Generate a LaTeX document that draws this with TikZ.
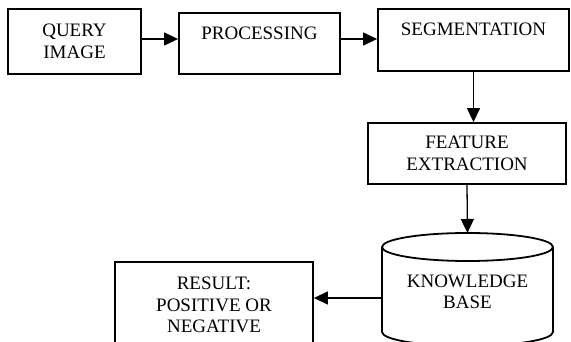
\documentclass[tikz,border=0pt]{standalone}
\usepackage{fontspec}
\setmainfont{Liberation Serif}
\usepackage{tikz}
\usetikzlibrary{arrows.meta,calc}
\tikzstyle{block}=[rectangle,draw,line width=1.8pt,inner sep=0pt,align=center,font=\fontsize{19}{21.5}\selectfont]
\tikzstyle{label}=[inner sep=0pt,align=center,font=\fontsize{19}{21.5}\selectfont]
\tikzstyle{edge} = [draw,line width=1.3pt,-{Triangle[length=14pt,width=13pt]}]

\begin{document}
\begin{tikzpicture}[x=1pt,y=1pt]
    \useasboundingbox (0,0) rectangle (571,-342);

    % top row and feature block
    \node[block,minimum width=133pt,minimum height=65pt] (query) at (74.5,-41.5) {QUERY\\IMAGE};
    \node[block,minimum width=161pt,minimum height=61pt] (proc) at (259.5,-43.5) {PROCESSING\\~};
    \node[block,minimum width=191pt,minimum height=62pt] (seg) at (473.5,-40) {SEGMENTATION\\~};
    \node[block,minimum width=198pt,minimum height=61pt] (feat) at (467,-153.5) {FEATURE\\EXTRACTION};
    \node[block,minimum width=198pt,minimum height=86pt] (result) at (214,-305) {RESULT:\\POSITIVE OR\\NEGATIVE};

    % knowledge base drum
    \draw[line width=1.8pt] (467.5,-247) ellipse [x radius=85.5pt,y radius=14pt];
    \draw[line width=1.8pt] (382,-247) -- (382,-332)
        arc[start angle=180,end angle=360,x radius=85.5pt,y radius=14pt] -- (553,-247);
    \node[label] (kb) at (467.5,-292) {KNOWLEDGE\\BASE};
    \coordinate (kbtop) at (467.5,-233);
    \coordinate (kbw) at (382,-298);
    \coordinate (row) at (0,-39);

    % arrows
    \foreach \source/ \dest in {query/proc, proc/seg}
        \path[edge] (\source.east |- row) -- (\dest.west |- row);
    \path[edge] (seg.south) -- (seg.south |- feat.north);
    \path[edge] (feat.south) -- (kbtop);
    \path[edge] (kbw) -- (result.east |- kbw);

\end{tikzpicture}
\end{document}
